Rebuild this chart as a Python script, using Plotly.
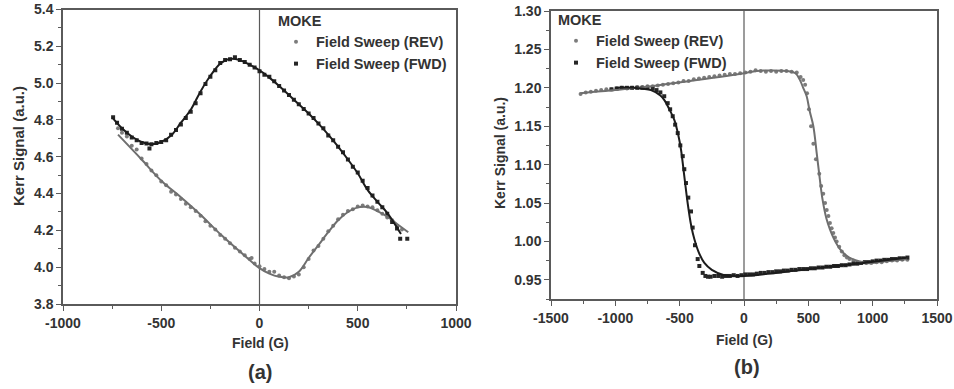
import plotly.graph_objects as go

# ---------------- Panel (a) ----------------
a_rev_field = [-720, -700, -675, -650, -625, -600, -575, -550, -525, -500, -475, -450, -425, -400,
               -375, -350, -325, -300, -275, -250, -225, -200, -175, -150, -125, -100, -75, -50,
               -40, -25, 0, 25, 50, 75, 100, 125, 150, 175, 200, 225, 250, 275, 300, 325, 350,
               375, 400, 425, 450, 475, 500, 525, 550, 575, 600, 625, 650, 675, 700, 725]
a_rev_kerr = [4.755, 4.73, 4.71, 4.66, 4.64, 4.59, 4.56, 4.525, 4.50, 4.465, 4.445, 4.41, 4.395, 4.37,
              4.345, 4.325, 4.305, 4.28, 4.25, 4.225, 4.205, 4.175, 4.155, 4.13, 4.105, 4.085, 4.065, 4.045,
              4.05, 4.02, 4.005, 3.99, 3.975, 3.975, 3.955, 3.945, 3.94, 3.95, 3.96, 4.0, 4.045, 4.09, 4.115,
              4.155, 4.195, 4.225, 4.26, 4.285, 4.305, 4.315, 4.33, 4.335, 4.33, 4.325, 4.31, 4.29, 4.27,
              4.255, 4.225, 4.205]

a_fwd_field = [-745, -725, -700, -675, -650, -625, -600, -575, -560, -550, -525, -500, -475, -450, -425,
               -400, -375, -350, -325, -300, -275, -250, -225, -200, -175, -150, -125, -100, -75, -50,
               -25, 0, 25, 50, 75, 100, 125, 150, 175, 200, 225, 250, 275, 300, 325, 350, 375, 400,
               425, 450, 475, 500, 525, 550, 575, 600, 625, 650, 675, 700, 716, 752]
a_fwd_kerr = [4.815, 4.785, 4.752, 4.73, 4.705, 4.69, 4.675, 4.672, 4.645, 4.668, 4.675, 4.68, 4.69, 4.72,
              4.745, 4.775, 4.81, 4.845, 4.89, 4.945, 4.995, 5.035, 5.07, 5.11, 5.125, 5.13, 5.14, 5.125,
              5.115, 5.10, 5.085, 5.065, 5.045, 5.035, 5.01, 4.985, 4.96, 4.935, 4.91, 4.885, 4.86, 4.835,
              4.81, 4.78, 4.755, 4.715, 4.69, 4.655, 4.625, 4.585, 4.545, 4.515, 4.47, 4.43, 4.39, 4.355,
              4.325, 4.29, 4.245, 4.21, 4.155, 4.155]

a_rev_fit_field = [-720, -600, -500, -400, -300, -200, -100, 0, 50, 100, 150, 200, 250, 300, 350, 400,
                   450, 500, 550, 600, 650, 700, 757]
a_rev_fit_kerr = [4.72, 4.585, 4.47, 4.38, 4.285, 4.18, 4.085, 3.995, 3.965, 3.948, 3.945, 3.975, 4.05,
                  4.12, 4.19, 4.255, 4.30, 4.325, 4.327, 4.305, 4.275, 4.235, 4.19]

a_fwd_fit_field = [-750, -700, -650, -600, -550, -500, -450, -400, -350, -300, -250, -200, -150, -100,
                   -50, 0, 50, 100, 150, 200, 250, 300, 350, 400, 450, 500, 550, 600, 650, 720]
a_fwd_fit_kerr = [4.814, 4.755, 4.71, 4.68, 4.668, 4.68, 4.715, 4.785, 4.855, 4.955, 5.04, 5.105, 5.132,
                  5.125, 5.10, 5.07, 5.03, 4.985, 4.935, 4.885, 4.835, 4.78, 4.72, 4.655, 4.585, 4.51,
                  4.42, 4.355, 4.295, 4.18]

a_xticks = [-1000, -500, 0, 500, 1000]
a_xtick_text = ["-1000", "-500", "0", "500", "1000"]
a_yticks = [3.8, 4.0, 4.2, 4.4, 4.6, 4.8, 5.0, 5.2, 5.4]
a_ytick_text = ["3.8", "4.0", "4.2", "4.4", "4.6", "4.8", "5.0", "5.2", "5.4"]

# ---------------- Panel (b) ----------------
b_rev_field = [-1270, -1230, -1190, -1150, -1110, -1070, -1030, -990, -950, -910, -870, -830, -790, -750,
               -710, -670, -630, -590, -550, -510, -470, -430, -390, -350, -310, -270, -230, -190, -150,
               -110, -70, -30, 10, 50, 90, 130, 170, 210, 250, 290, 330, 370, 410, 440, 460, 475, 490,
               505, 521, 539, 559, 585, 600, 616, 630, 643, 656, 668, 681, 694, 707, 720, 740, 760, 780,
               800, 820, 850, 880, 910, 950, 990, 1030, 1070, 1110, 1150, 1190, 1230, 1270]
b_rev_kerr = [1.192, 1.194, 1.195, 1.196, 1.197, 1.198, 1.198, 1.199, 1.200, 1.199, 1.200, 1.201, 1.201,
              1.202, 1.202, 1.203, 1.204, 1.205, 1.206, 1.207, 1.209, 1.209, 1.211, 1.212, 1.213, 1.214,
              1.215, 1.216, 1.217, 1.218, 1.218, 1.219, 1.220, 1.221, 1.223, 1.222, 1.221, 1.222, 1.221,
              1.222, 1.222, 1.221, 1.220, 1.214, 1.210, 1.204, 1.193, 1.172, 1.150, 1.127, 1.107, 1.088,
              1.072, 1.062, 1.050, 1.041, 1.033, 1.024, 1.017, 1.011, 1.005, 1.000, 0.993, 0.987, 0.982,
              0.979, 0.977, 0.975, 0.973, 0.972, 0.972, 0.972, 0.973, 0.973, 0.974, 0.975, 0.975, 0.976,
              0.976]

b_fwd_field = [-1030, -990, -950, -910, -870, -830, -790, -750, -710, -680, -650, -620, -593, -574, -554,
               -535, -515, -495, -476, -464, -451, -433, -412, -399, -381, -360, -347, -321, -300, -280,
               -260, -230, -200, -170, -140, -110, -80, -50, -20, 10, 40, 70, 100, 130, 160, 190, 220,
               250, 280, 310, 340, 370, 400, 430, 460, 490, 520, 550, 580, 610, 640, 670, 700, 730, 760,
               790, 820, 850, 880, 910, 940, 970, 1000, 1030, 1060, 1090, 1120, 1150, 1180, 1210, 1240,
               1270]
b_fwd_kerr = [1.198, 1.199, 1.200, 1.200, 1.200, 1.200, 1.200, 1.200, 1.199, 1.197, 1.194, 1.189, 1.180,
              1.172, 1.163, 1.152, 1.141, 1.125, 1.111, 1.094, 1.076, 1.057, 1.039, 1.018, 0.995, 0.977,
              0.968, 0.959, 0.955, 0.954, 0.954, 0.955, 0.955, 0.954, 0.955, 0.955, 0.956, 0.955, 0.956,
              0.957, 0.957, 0.957, 0.958, 0.959, 0.959, 0.960, 0.960, 0.961, 0.961, 0.962, 0.962, 0.963,
              0.963, 0.964, 0.964, 0.964, 0.965, 0.965, 0.966, 0.966, 0.967, 0.967, 0.968, 0.968, 0.969,
              0.969, 0.970, 0.971, 0.971, 0.972, 0.973, 0.973, 0.974, 0.975, 0.975, 0.976, 0.976, 0.977,
              0.977, 0.978, 0.978, 0.979]

b_rev_fit_field = [-1270, -850, -460, 0, 100, 350, 400, 435, 460, 487, 510, 539, 565, 590, 610, 640, 668,
                   700, 746, 800, 849, 900, 953, 1100, 1264]
b_rev_fit_kerr = [1.193, 1.1996, 1.208, 1.219, 1.222, 1.2215, 1.219, 1.21, 1.20, 1.189, 1.17, 1.15, 1.115,
                  1.08, 1.055, 1.03, 1.0156, 1.003, 0.99, 0.981, 0.9766, 0.974, 0.972, 0.974, 0.9775]

b_fwd_fit_field = [-1000, -850, -723, -650, -619, -580, -541, -510, -490, -464, -438, -410, -386, -350,
                   -308, -250, -153, 0, 487, 876, 1264]
b_fwd_fit_kerr = [1.20, 1.20, 1.197, 1.19, 1.184, 1.172, 1.158, 1.138, 1.12, 1.085, 1.05, 1.02, 1.003,
                  0.985, 0.972, 0.963, 0.956, 0.955, 0.9636, 0.971, 0.9788]

b_xticks = [-1500, -1000, -500, 0, 500, 1000, 1500]
b_xtick_text = ["-1500", "-1000", "-500", "0", "500", "1000", "1500"]
b_yticks = [0.95, 1.00, 1.05, 1.10, 1.15, 1.20, 1.25, 1.30]
b_ytick_text = ["0.95", "1.00", "1.05", "1.10", "1.15", "1.20", "1.25", "1.30"]

GRAY = "#7c7c7c"
GRAY_LINE = "#6f6f6f"
BLACK = "#262626"
BLACK_LINE = "#1c1c1c"
FONT = "Liberation Sans"
TXT = "#333333"

fig = go.Figure()

panels = [
    ("x", "y", "legend", a_rev_field, a_rev_kerr, a_fwd_field, a_fwd_kerr,
     a_rev_fit_field, a_rev_fit_kerr, a_fwd_fit_field, a_fwd_fit_kerr),
    ("x2", "y2", "legend2", b_rev_field, b_rev_kerr, b_fwd_field, b_fwd_kerr,
     b_rev_fit_field, b_rev_fit_kerr, b_fwd_fit_field, b_fwd_fit_kerr),
]

for (xa, ya, lg, rf, rk, ff, fk, rff, rfk, fff, ffk) in panels:
    fig.add_trace(go.Scatter(x=rf, y=rk, mode="markers", name="Field Sweep (REV)",
                             marker=dict(symbol="circle", size=4, color=GRAY),
                             xaxis=xa, yaxis=ya, legend=lg))
    fig.add_trace(go.Scatter(x=ff, y=fk, mode="markers", name="Field Sweep (FWD)",
                             marker=dict(symbol="square", size=4, color=BLACK),
                             xaxis=xa, yaxis=ya, legend=lg))
    fig.add_trace(go.Scatter(x=rff, y=rfk, mode="lines", showlegend=False, hoverinfo="skip",
                             line=dict(color=GRAY_LINE, width=2, shape="spline", smoothing=1.0),
                             xaxis=xa, yaxis=ya))
    fig.add_trace(go.Scatter(x=fff, y=ffk, mode="lines", showlegend=False, hoverinfo="skip",
                             line=dict(color=BLACK_LINE, width=2, shape="spline", smoothing=1.0),
                             xaxis=xa, yaxis=ya))

W, H = 954, 389


def px_x(p):
    return p / W


def px_y(p):
    return 1 - p / H


axis_common = dict(showline=True, linecolor="#5a5a5a", linewidth=1.5, mirror=True,
                   ticks="outside", ticklen=5, tickwidth=1.2, tickcolor="#5a5a5a",
                   showgrid=False, zeroline=False, automargin=False,
                   tickfont=dict(family=FONT, size=14, color=TXT, weight="bold"))
minor_common = dict(ticks="outside", ticklen=3, tickwidth=1, tickcolor="#5a5a5a", showgrid=False)

leg_font = dict(family=FONT, size=14.5, color=TXT, weight="bold")

fig.update_layout(
    width=W, height=H,
    margin=dict(l=0, r=0, t=0, b=0, autoexpand=False),
    paper_bgcolor="white", plot_bgcolor="white",
    font=dict(family=FONT, color=TXT),
    xaxis=dict(domain=[px_x(63), px_x(456)], range=[-1000, 1000],
               tickmode="array", tickvals=a_xticks, ticktext=a_xtick_text,
               minor=dict(dtick=250, tick0=0, **minor_common), anchor="y", **axis_common),
    yaxis=dict(domain=[px_y(304), px_y(9.5)], range=[3.8, 5.4],
               tickmode="array", tickvals=a_yticks, ticktext=a_ytick_text,
               minor=dict(dtick=0.1, tick0=3.8, **minor_common), anchor="x", **axis_common),
    xaxis2=dict(domain=[px_x(551), px_x(937)], range=[-1500, 1500],
                tickmode="array", tickvals=b_xticks, ticktext=b_xtick_text,
                minor=dict(dtick=250, tick0=0, **minor_common), anchor="y2", **axis_common),
    yaxis2=dict(domain=[px_y(299), px_y(11)], range=[0.925, 1.30],
                tickmode="array", tickvals=b_yticks, ticktext=b_ytick_text,
                minor=dict(dtick=0.025, tick0=0.95, **minor_common), anchor="x2", **axis_common),
    legend=dict(x=px_x(276), y=px_y(7), xanchor="left", yanchor="top", bgcolor="rgba(0,0,0,0)",
                title=dict(text="MOKE", font=leg_font), font=leg_font, tracegroupgap=0),
    legend2=dict(x=px_x(556), y=px_y(6), xanchor="left", yanchor="top", bgcolor="rgba(0,0,0,0)",
                 title=dict(text="MOKE", font=leg_font), font=leg_font, tracegroupgap=0),
)

# zero reference lines
for xr, yr in (("x", "y domain"), ("x2", "y2 domain")):
    fig.add_shape(type="line", xref=xr, yref=yr, x0=0, x1=0, y0=0, y1=1,
                  line=dict(color="#5a5a5a", width=1.2), layer="below")

lbl = dict(family=FONT, size=14, color=TXT, weight="bold")
annots = [
    dict(text="Field (G)", x=px_x(260), y=px_y(343), font=lbl),
    dict(text="Field (G)", x=px_x(744), y=px_y(340), font=lbl),
    dict(text="Kerr Signal (a.u.)", x=px_x(19), y=px_y(146), font=dict(family=FONT, size=15, color=TXT, weight="bold"), textangle=-90),
    dict(text="Kerr Signal (a.u.)", x=px_x(500), y=px_y(153), font=lbl, textangle=-90),
    dict(text="(a)", x=px_x(260), y=px_y(372), font=dict(family=FONT, size=20, color=TXT, weight="bold")),
    dict(text="(b)", x=px_x(747), y=px_y(367), font=dict(family=FONT, size=20, color=TXT, weight="bold")),
]
for a in annots:
    fig.add_annotation(xref="paper", yref="paper", showarrow=False, xanchor="center", yanchor="middle", **a)

fig.write_html("out.html")
